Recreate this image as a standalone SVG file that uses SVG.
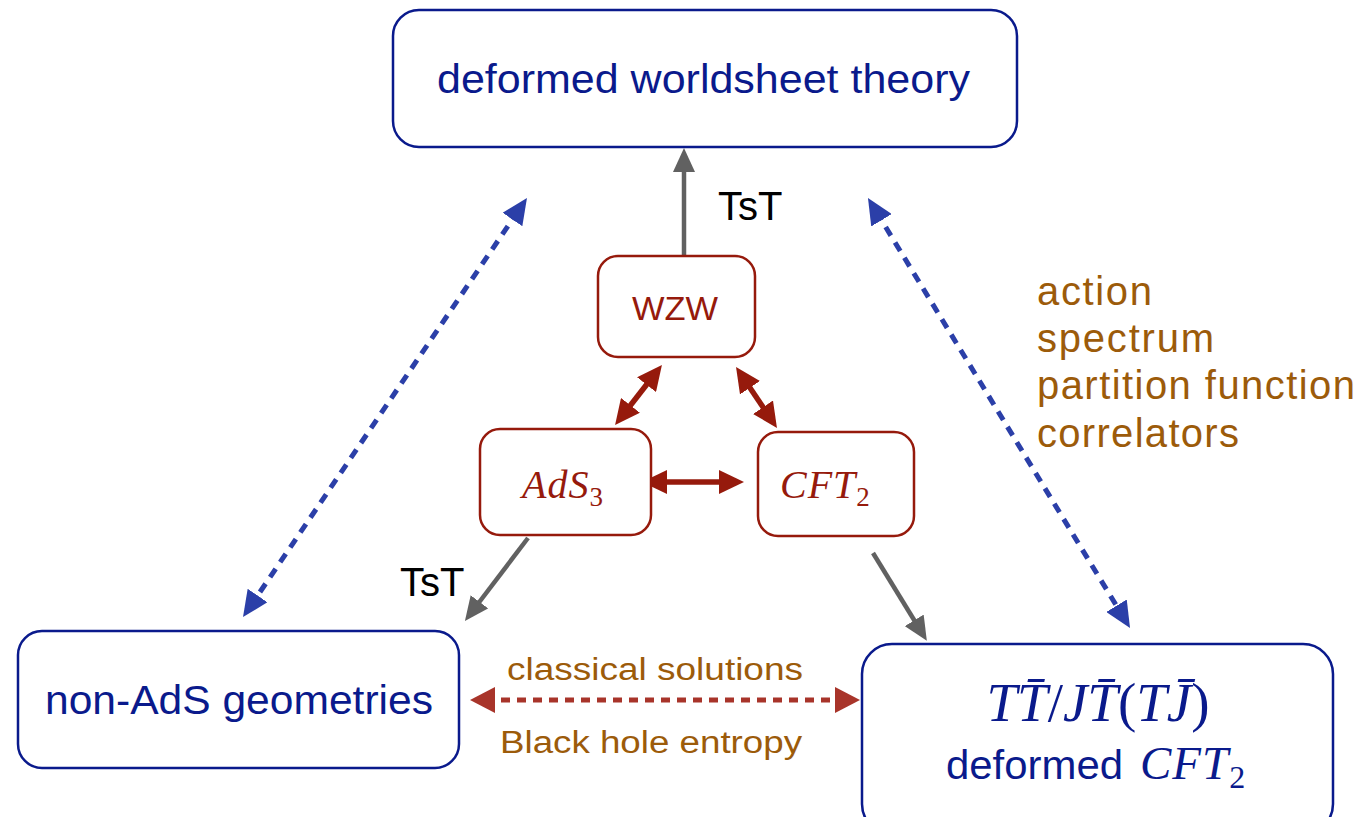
<svg xmlns="http://www.w3.org/2000/svg" width="1362" height="817" viewBox="0 0 1362 817">
<style>
.bbox{fill:#fff;stroke:#0a1a8c;stroke-width:2.5}
.rbox{fill:#fff;stroke:#961a0c;stroke-width:2.5}
.sans{font-family:"Liberation Sans",Arial,sans-serif}
.math{font-family:"Liberation Serif","Times New Roman",serif;font-style:italic}
.up{font-family:"Liberation Serif","Times New Roman",serif;font-style:normal}
.blue{fill:#0a1a8c}
.red{fill:#961a0c}
.brown{fill:#9c5b0a}
.gray{stroke:#616161;stroke-width:4.5;fill:none}
.redl{stroke:#961a0c;stroke-width:5.5;fill:none}
.bluel{stroke:#2b3fa8;stroke-width:5;fill:none;stroke-dasharray:10 8}
.redd{stroke:#a8342a;stroke-width:5;fill:none;stroke-dasharray:9 7}
</style>
<defs>
<marker id="mg" markerUnits="userSpaceOnUse" markerWidth="24" markerHeight="22" refX="9" refY="11" orient="auto-start-reverse"><path d="M0,0 L24,11 L0,22 z" fill="#616161"/></marker>
<marker id="mr" markerUnits="userSpaceOnUse" markerWidth="25" markerHeight="24" refX="10" refY="12" orient="auto-start-reverse"><path d="M0,0 L25,12 L0,24 z" fill="#961a0c"/></marker>
<marker id="mb" markerUnits="userSpaceOnUse" markerWidth="26" markerHeight="24" refX="10" refY="12" orient="auto-start-reverse"><path d="M0,0 L26,12 L0,24 z" fill="#2b3fa8"/></marker>
<marker id="md" markerUnits="userSpaceOnUse" markerWidth="25" markerHeight="26" refX="10" refY="13" orient="auto-start-reverse"><path d="M0,0 L25,13 L0,26 z" fill="#a8342a"/></marker>
</defs>

<g id="connectors">
<line class="gray" x1="684" y1="256" x2="684" y2="163" marker-end="url(#mg)"/>
<line class="gray" x1="528" y1="538" x2="474" y2="609" marker-end="url(#mg)"/>
<line class="gray" x1="873" y1="553" x2="919" y2="628" marker-end="url(#mg)"/>
<line class="redl" x1="652.7" y1="376.8" x2="624.3" y2="413.2" marker-start="url(#mr)" marker-end="url(#mr)"/>
<line class="redl" x1="744.4" y1="379.5" x2="768.6" y2="415.5" marker-start="url(#mr)" marker-end="url(#mr)"/>
<line class="redl" x1="657" y1="482" x2="729" y2="482" marker-start="url(#mr)" marker-end="url(#mr)"/>
<line class="bluel" x1="518" y1="211.2" x2="252" y2="603.8" marker-start="url(#mb)" marker-end="url(#mb)"/>
<line class="bluel" x1="876.3" y1="211.7" x2="1121.7" y2="614.3" marker-start="url(#mb)" marker-end="url(#mb)"/>
<line class="redd" x1="485" y1="700" x2="845" y2="700" marker-start="url(#md)" marker-end="url(#md)"/>
<text class="sans" x="718" y="220" font-size="40" fill="#000">TsT</text>
<text class="sans" x="400" y="596" font-size="40" fill="#000">TsT</text>
<text class="sans brown" x="507" y="680" font-size="31" textLength="296" lengthAdjust="spacingAndGlyphs">classical solutions</text>
<text class="sans brown" x="500" y="753" font-size="31" textLength="302" lengthAdjust="spacingAndGlyphs">Black hole entropy</text>
<text class="sans brown" font-size="40" lengthAdjust="spacingAndGlyphs">
<tspan x="1037" y="305" textLength="115">action</tspan>
<tspan x="1037" y="352" textLength="177">spectrum</tspan>
<tspan x="1037" y="399" textLength="318">partition function</tspan>
<tspan x="1037" y="447" textLength="202">correlators</tspan>
</text>
</g>

<g id="top">
<rect class="bbox" x="393" y="10" width="624" height="137" rx="26"/>
<text class="sans blue" x="437" y="93" font-size="40" textLength="533" lengthAdjust="spacingAndGlyphs">deformed worldsheet theory</text>
</g>

<g id="wzw">
<rect class="rbox" x="598" y="256" width="157" height="101" rx="20"/>
<text class="sans red" x="632" y="320" font-size="34" textLength="86" lengthAdjust="spacingAndGlyphs">WZW</text>
</g>

<g id="ads3">
<rect class="rbox" x="480" y="429" width="171" height="106" rx="20"/>
<text class="math red" x="522" y="498" font-size="40" letter-spacing="1">AdS<tspan class="up" font-size="27" dy="8">3</tspan></text>
</g>

<g id="cft2">
<rect class="rbox" x="758" y="432" width="156" height="104" rx="20"/>
<text class="math red" x="780" y="498" font-size="40" letter-spacing="1">CFT<tspan class="up" font-size="27" dy="8">2</tspan></text>
</g>

<g id="nonads">
<rect class="bbox" x="18" y="631" width="441" height="137" rx="24"/>
<text class="sans blue" x="45" y="714" font-size="40" textLength="388" lengthAdjust="spacingAndGlyphs">non-AdS geometries</text>
</g>

<g id="ttbar">
<rect class="bbox" x="862" y="644" width="471" height="190" rx="30"/>
<text class="math blue" x="1098" y="721" font-size="55" text-anchor="middle">TT̄<tspan class="up">/</tspan>JT̄<tspan class="up">(</tspan>TJ̄<tspan class="up">)</tspan></text>
<text x="946" y="779"><tspan class="sans blue" font-size="40" textLength="177" lengthAdjust="spacingAndGlyphs">deformed</tspan><tspan class="math blue" font-size="47" x="1140" letter-spacing="1">CFT</tspan><tspan class="up blue" font-size="32" dy="9">2</tspan></text>
</g>
</svg>
